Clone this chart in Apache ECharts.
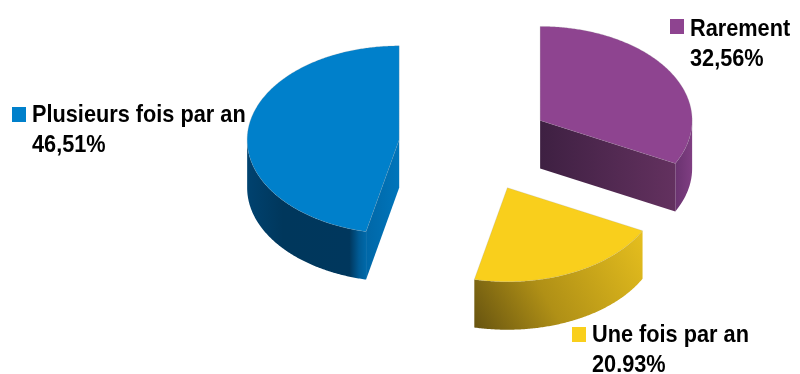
<!DOCTYPE html>
<html>
<head>
<meta charset="utf-8">
<style>
  html, body { margin: 0; padding: 0; background: #fff; }
  #chart { width: 800px; height: 374px; }
</style>
<script src="https://cdn.jsdelivr.net/npm/echarts@6/dist/echarts.min.js"></script>
</head>
<body>
<div id="chart"></div>
<script>
// Survey answers, clockwise from twelve o'clock
const categories = ['Rarement', 'Une fois par an', 'Plusieurs fois par an'];
const shares = [32.56, 20.93, 46.51];
const valueLabels = ['32,56%', '20.93%', '46,51%'];

// Flat colours of the top faces
const topColors = ['#8e4490', '#f9cf1c', '#0080cb'];

// Shading of the visible rim, per slice: direction vector and colour stops
const rimShades = [
  { dir: [0, 0, 1, 0], stops: [[0, '#6a3370'], [1, '#7f3e82']] },
  { dir: [0, 1, 1, 0], stops: [[0, '#665310'], [0.4, '#b09016'], [1, '#e6bf1e']] },
  { dir: [0, 0, 1, 0], stops: [[0, '#00426f'], [0.3, '#00375c'], [0.86, '#00375d'], [0.94, '#005b95'], [1, '#0069a9']] }
];
// Shading of the cut face that looks towards the viewer
const faceStops = [
  [[0, '#3e2042'], [1, '#63315f']],
  null,
  [[0, '#0067a7'], [1, '#0075bb']]
];

// Pie projection on the canvas
const pie = { cx: 475, cy: 145, rx: 152, ry: 94, depth: 48, explode: 76.3 };

// Legend key and text anchor of each slice (text y is the first baseline)
const legendAnchors = [
  { keyX: 670, keyY: 19, textX: 690, textY: 37 },
  { keyX: 572, keyY: 327, textX: 592, textY: 343 },
  { keyX: 12, keyY: 107, textX: 32, textY: 123 }
];
const labelFont = 'bold 24px "Liberation Sans"';
const labelScaleX = 0.905;
const lineStep = 30;

const total = shares.reduce((a, b) => a + b, 0);
const starts = [];
shares.reduce((acc, v, i) => { starts[i] = acc; return acc + v / total * 360; }, 0);

const rad = d => d * Math.PI / 180;
const onRim = (c, deg, dy) => [c[0] + pie.rx * Math.sin(rad(deg)), c[1] - pie.ry * Math.cos(rad(deg)) + (dy || 0)];

function arcPoints(c, from, to, dy) {
  const pts = [];
  const n = Math.max(2, Math.ceil(Math.abs(to - from) * 2));
  for (let i = 0; i <= n; i++) pts.push(onRim(c, from + (to - from) * i / n, dy));
  return pts;
}

function gradient(dir, stops) {
  return new echarts.graphic.LinearGradient(dir[0], dir[1], dir[2], dir[3],
    stops.map(s => ({ offset: s[0], color: s[1] })));
}

function renderSlice(params, api) {
  const i = params.dataIndex;
  const start = starts[i];
  const end = start + api.value(0) / total * 360;
  const mid = rad((start + end) / 2);
  const c = [pie.cx + pie.explode * Math.sin(mid), pie.cy - pie.explode * Math.cos(mid) * pie.ry / pie.rx];
  const children = [];

  // Rim: only the front half of the ellipse is visible
  const a = Math.max(start, 90), b = Math.min(end, 270);
  if (b > a) {
    const upper = arcPoints(c, a, b, 0);
    const lower = arcPoints(c, b, a, pie.depth);
    children.push({ type: 'polygon', shape: { points: upper.concat(lower) },
      style: { fill: gradient(rimShades[i].dir, rimShades[i].stops) } });
  }

  // Cut faces that turn towards the viewer
  const face = deg => {
    const p = onRim(c, deg, 0);
    children.push({ type: 'polygon',
      shape: { points: [c, p, [p[0], p[1] + pie.depth], [c[0], c[1] + pie.depth]] },
      style: { fill: gradient([0, 0, 1, 0], faceStops[i]) } });
  };
  if (Math.sin(rad(end)) > 0.01) face(end);
  if (Math.sin(rad(start)) < -0.01) face(start);

  // Top face
  children.push({ type: 'polygon', shape: { points: [c].concat(arcPoints(c, start, end, 0)) },
    style: { fill: topColors[i], stroke: 'rgba(150,150,150,0.35)', lineWidth: 0.6 } });

  // Legend key and its two text lines
  const la = legendAnchors[i];
  children.push({ type: 'rect', shape: { x: la.keyX, y: la.keyY, width: 14, height: 15 },
    style: { fill: topColors[i] } });
  [categories[i], valueLabels[i]].forEach((line, k) => children.push({
    type: 'text',
    x: la.textX,
    y: la.textY + k * lineStep - 8,
    scaleX: labelScaleX,
    style: { text: line, x: 0, y: 0, fill: '#000', font: labelFont, verticalAlign: 'middle' }
  }));

  return { type: 'group', children };
}

const chart = echarts.init(document.getElementById('chart'), null, { renderer: 'canvas' });
chart.setOption({
  animation: false,
  backgroundColor: '#fff',
  series: [{
    type: 'custom',
    coordinateSystem: 'none',
    renderItem: renderSlice,
    data: shares.map((v, i) => ({ name: categories[i], value: [v] }))
  }]
});
</script>
</body>
</html>
